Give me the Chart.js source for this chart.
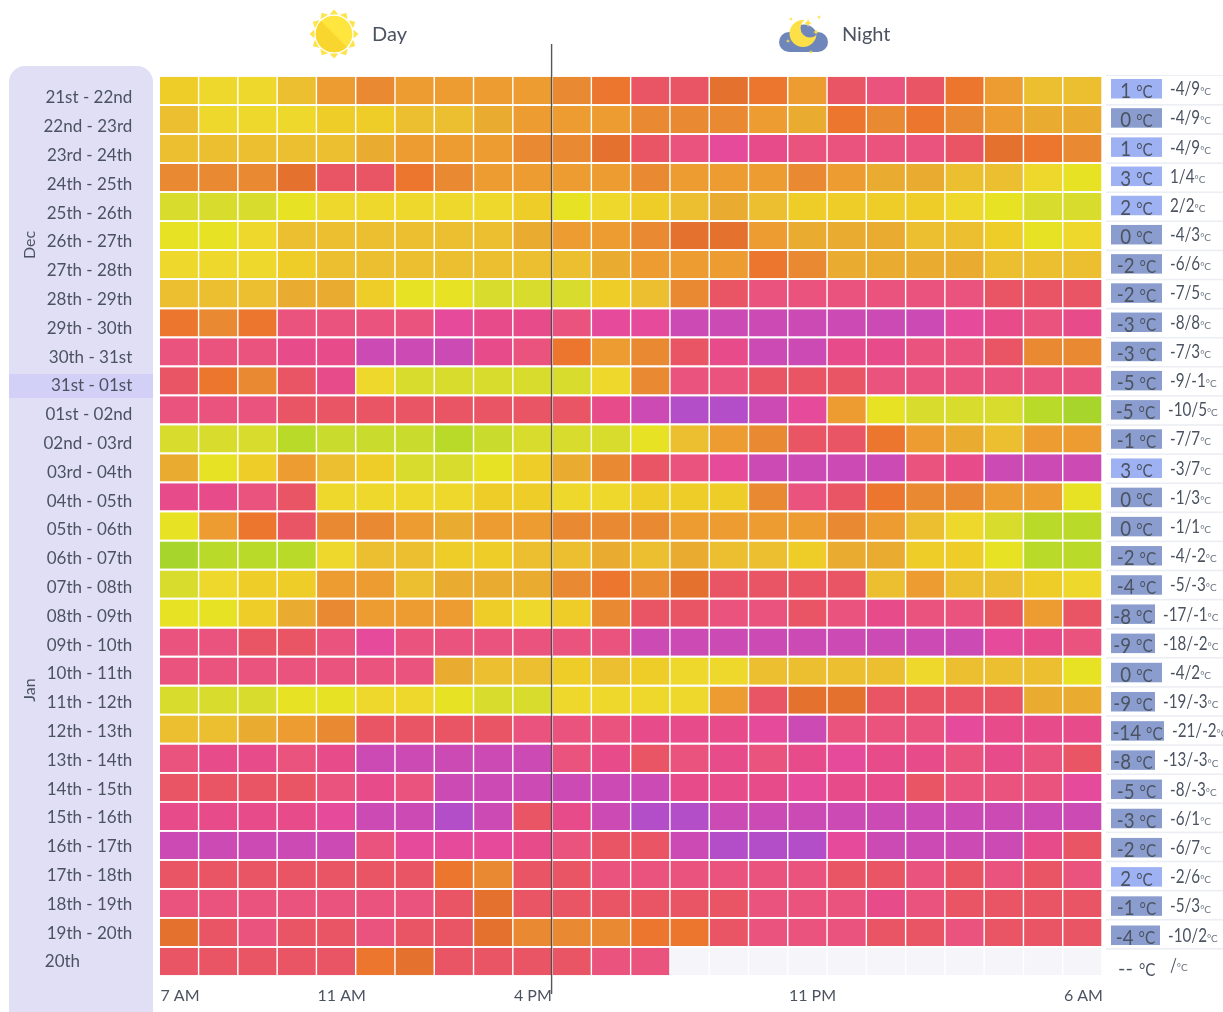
<!DOCTYPE html>
<html><head><meta charset="utf-8">
<style>html,body{margin:0;padding:0;background:#fff;overflow:hidden}canvas{display:block}</style>
<script src="https://cdn.jsdelivr.net/npm/chart.js@4"></script>
</head><body>
<canvas id="c" width="1223" height="1012"></canvas>
<script>
const rowLabels=["21st - 22nd","22nd - 23rd","23rd - 24th","24th - 25th","25th - 26th","26th - 27th","27th - 28th","28th - 29th","29th - 30th","30th - 31st","31st - 01st","01st - 02nd","02nd - 03rd","03rd - 04th","04th - 05th","05th - 06th","06th - 07th","07th - 08th","08th - 09th","09th - 10th","10th - 11th","11th - 12th","12th - 13th","13th - 14th","14th - 15th","15th - 16th","16th - 17th","17th - 18th","18th - 19th","19th - 20th","20th"];
const hourLabels=["7 AM","8 AM","9 AM","10 AM","11 AM","12 PM","1 PM","2 PM","3 PM","4 PM","5 PM","6 PM","7 PM","8 PM","9 PM","10 PM","11 PM","12 AM","1 AM","2 AM","3 AM","4 AM","5 AM","6 AM"];
const shownHours=[0,4,9,16,23];
const levelColors=["#a8d52b","#b9da28","#c9dc2e","#d8dc2d","#e8e224","#eed82c","#efcd28","#ebbf2f","#e9ac30","#ec9c30","#e98931","#ec762e","#e4722e","#e95564","#e9537d","#e84b89","#e64a9a","#cc4ab3","#b44dc8"];
const missingColor="#f6f6fa";
const levels=[
[6,5,5,7,9,10,9,9,9,9,10,11,13,13,12,11,9,13,14,13,11,9,7,7],
[7,5,5,5,6,6,7,7,8,9,9,9,10,10,10,9,8,11,10,11,10,9,8,8],
[7,7,7,7,7,8,9,9,9,10,10,12,13,14,16,15,14,14,14,14,13,12,11,10],
[10,10,10,12,13,13,11,10,9,9,9,9,10,9,9,9,10,9,8,8,7,7,5,4],
[3,3,3,4,5,5,5,5,5,6,4,5,6,7,8,7,6,6,6,6,5,4,3,3],
[4,4,5,7,7,7,7,7,7,8,9,9,10,12,12,9,8,8,8,7,7,6,4,5],
[5,5,5,6,7,7,7,7,7,7,7,8,9,9,9,11,10,8,8,8,8,7,7,7],
[7,7,7,8,8,6,4,4,3,3,3,6,7,10,13,14,14,14,14,14,14,13,13,13],
[11,10,11,14,14,14,14,16,15,15,14,16,16,17,17,17,17,17,17,17,16,15,14,15],
[14,14,14,15,15,17,17,17,15,14,11,9,10,13,15,17,17,15,15,14,14,13,10,10],
[13,11,10,13,15,5,3,3,3,3,3,5,10,14,14,13,13,13,14,14,14,14,14,14],
[14,14,14,13,13,13,13,13,13,13,13,15,17,18,18,17,16,9,4,3,3,3,1,0],
[3,3,3,1,2,2,2,1,2,3,3,3,4,7,9,10,13,13,11,9,8,7,9,9],
[8,4,6,9,7,6,3,3,4,6,8,10,13,14,16,17,17,17,17,14,15,17,17,17],
[15,15,14,13,5,5,5,5,6,6,5,5,6,6,6,10,14,13,11,10,10,9,9,4],
[4,9,11,13,10,10,9,8,9,9,10,10,10,9,9,9,9,10,9,7,5,3,1,1],
[0,1,1,1,5,7,7,6,6,7,7,8,7,8,7,7,6,8,8,6,6,4,1,1],
[3,5,6,6,9,9,7,8,8,8,10,11,10,12,13,13,13,13,7,9,7,7,6,5],
[4,4,6,8,10,9,9,9,6,5,6,10,13,13,14,14,13,14,15,14,14,13,9,13],
[14,14,13,13,14,16,14,14,14,14,14,14,17,17,17,17,17,17,17,17,17,16,15,14],
[14,14,14,14,14,14,14,8,7,7,6,7,6,5,5,7,7,7,7,5,7,7,7,4],
[3,3,3,4,4,5,5,4,3,3,5,5,5,5,9,13,12,12,13,13,13,13,8,8],
[7,7,8,9,10,13,13,13,13,14,14,14,15,15,15,16,17,14,14,14,16,15,15,15],
[14,15,15,14,15,17,17,17,17,17,14,15,13,14,15,14,15,16,15,15,14,15,14,13],
[13,13,13,13,14,15,14,17,17,17,17,17,17,15,15,15,16,15,15,13,14,14,14,16],
[15,15,15,15,16,17,17,18,17,13,15,17,18,18,17,17,17,17,17,17,17,17,17,17],
[17,17,17,17,17,14,16,16,16,15,14,13,13,17,18,18,18,16,17,17,17,17,15,13],
[13,13,13,13,13,13,13,11,10,13,13,14,14,14,14,14,14,13,13,14,13,14,13,14],
[14,14,14,14,14,14,14,13,12,13,13,13,13,13,13,14,14,14,15,14,13,13,13,13],
[12,13,14,13,13,14,13,13,12,10,10,10,11,11,13,14,14,14,13,13,14,13,13,13],
[13,13,13,13,13,11,12,13,13,13,13,14,14,null,null,null,null,null,null,null,null,null,null,null]
];
const meanTemps=[1,0,1,3,2,0,-2,-2,-3,-3,-5,-5,-1,3,0,0,-2,-4,-8,-9,0,-9,-14,-8,-5,-3,-2,2,-1,-4,null];
const tempRanges=["-4/9","-4/9","-4/9","1/4","2/2","-4/3","-6/6","-7/5","-8/8","-7/3","-9/-1","-10/5","-7/7","-3/7","-1/3","-1/1","-4/-2","-5/-3","-17/-1","-18/-2","-4/2","-19/-3","-21/-2","-13/-3","-8/-3","-6/1","-6/7","-2/6","-5/3","-10/2","/"];
const monthLabels=["Dec","Jan"];
const headerLabels=["Day","Night"];
const todayRow=10;
const nowColumn=10;

const FONT='Lato, "Open Sans", sans-serif';
const INK='#4b5361';

function narrow(ctx,t,x,y,k){const w=ctx.measureText(t).width*k;ctx.fillText(t,x,y,w);return w;}
function drawSun(ctx,cx,cy){
  ctx.save();
  ctx.fillStyle='#fde44b';
  for(let i=0;i<12;i++){
    const a=i*Math.PI/6;
    ctx.save();ctx.translate(cx,cy);ctx.rotate(a);
    ctx.beginPath();ctx.moveTo(-4.5,-19.5);ctx.lineTo(0,-24.5);ctx.lineTo(4.5,-19.5);ctx.closePath();ctx.fill();
    ctx.restore();
  }
  ctx.beginPath();ctx.arc(cx,cy,18.3,0,Math.PI*2);ctx.fillStyle='#fee63f';ctx.fill();
  ctx.save();ctx.beginPath();ctx.arc(cx,cy,18.3,0,Math.PI*2);ctx.clip();
  ctx.beginPath();ctx.moveTo(cx-20,cy-20);ctx.lineTo(cx+20,cy+20);ctx.lineTo(cx-20,cy+20);ctx.closePath();
  ctx.fillStyle='#f9d62e';ctx.fill();ctx.restore();
  ctx.restore();
}
function star(ctx,x,y,r,color){
  ctx.fillStyle=color;ctx.beginPath();
  ctx.moveTo(x,y-r);ctx.quadraticCurveTo(x,y,x+r,y);ctx.quadraticCurveTo(x,y,x,y+r);
  ctx.quadraticCurveTo(x,y,x-r,y);ctx.quadraticCurveTo(x,y,x,y-r);ctx.fill();
}
function drawMoon(ctx){
  ctx.save();
  const blue='#6f86bb',yel='#fddf47';
  ctx.fillStyle=blue;
  ctx.beginPath();ctx.arc(804,38,13.5,0,Math.PI*2);ctx.fill();
  ctx.beginPath();ctx.arc(789,42,10,0,Math.PI*2);ctx.fill();
  ctx.beginPath();ctx.arc(818,42,10,0,Math.PI*2);ctx.fill();
  ctx.fillRect(789,38,29,14);
  ctx.save();
  ctx.beginPath();ctx.rect(770,10,70,50);ctx.arc(810,28,9.5,0,Math.PI*2);ctx.clip('evenodd');
  ctx.fillStyle=yel;ctx.beginPath();ctx.arc(803,33.5,13.5,0,Math.PI*2);ctx.fill();
  ctx.restore();
  star(ctx,791,19,2.5,yel);star(ctx,808,23,5,yel);star(ctx,819,17,2.5,yel);
  star(ctx,816,32,3.5,yel);star(ctx,788,41,2.5,yel);star(ctx,811,52,2.5,yel);
  ctx.restore();
}
function badgeWidth(t,i){
  if(t===-8||t===-9) return 44;
  if(t===-14) return 53;
  if(i===11||i===29) return 49;
  return 51;
}
const backdrop={id:'backdrop',beforeDraw(chart){
  const ctx=chart.ctx;
  ctx.save();
  ctx.fillStyle='#fff';ctx.fillRect(0,0,1223,1012);
  ctx.fillStyle='#e1dff5';
  ctx.beginPath();ctx.roundRect(9,66,144,960,16);ctx.fill();
  ctx.fillStyle='#d2d0f7';
  const y2=chart.scales.y2;
  ctx.fillRect(9,y2.getPixelForValue(todayRow)-12,144,24);
  ctx.restore();
}};
const overlay={id:'overlay',afterDraw(chart){
  const ctx=chart.ctx, {x}=chart.scales;
  ctx.save();
  const lx=x.getPixelForValue(nowColumn)-0.5;
  ctx.strokeStyle='rgba(45,45,50,.8)';ctx.lineWidth=1.4;
  ctx.beginPath();ctx.moveTo(lx,44);ctx.lineTo(lx,994);ctx.stroke();
  drawSun(ctx,334,34);drawMoon(ctx);
  ctx.fillStyle=INK;ctx.textBaseline='middle';ctx.textAlign='left';
  ctx.font='20px '+FONT;
  ctx.fillText(headerLabels[0],372,35);
  ctx.fillText(headerLabels[1],842,35);
  ctx.font='16px '+FONT;ctx.textAlign='center';
  [[monthLabels[0],245],[monthLabels[1],690]].forEach(([t,y])=>{
    ctx.save();ctx.translate(30,y);ctx.rotate(-Math.PI/2);ctx.fillText(t,0,0);ctx.restore();
  });
  meanTemps.forEach((t,i)=>{
    const top=76+29.1*i;
    ctx.fillStyle='#eceef3';ctx.fillRect(1106,top-1,117,i===0?1:1.6);
    const by=top+3+i*0.09,cy=by+10;
    let rx;
    ctx.textBaseline='middle';ctx.textAlign='left';
    if(t===null){
      ctx.fillStyle=INK;
      ctx.font='20px '+FONT;ctx.fillText('--',1118,cy+4);
      ctx.font='18px '+FONT;narrow(ctx,'°C',1139,cy+5,.85);
      rx=1162;
    }else{
      const w=badgeWidth(t,i);
      ctx.fillStyle=t>0?'#9db1f3':'#8a9dce';
      ctx.fillRect(1111,by,w,19.5);
      rx=1111+w;
      ctx.fillStyle=INK;
      const s=String(t),k=.85;
      ctx.font='22px '+FONT;const sw=ctx.measureText(s).width*k;
      ctx.font='18px '+FONT;const uw=ctx.measureText('°C').width*k,gap=5;
      const sx=1111+(w-sw-gap-uw)/2;
      ctx.font='22px '+FONT;narrow(ctx,s,sx,cy+2,k);
      ctx.font='18px '+FONT;narrow(ctx,'°C',sx+sw+gap,cy+3,k);
    }
    ctx.fillStyle=INK;
    ctx.font='19px '+FONT;
    const rw=narrow(ctx,tempRanges[i],rx+8,t===null?cy+1:cy,.8);
    ctx.font='10px '+FONT;ctx.fillStyle='#6a7280';
    ctx.fillText('°C',rx+8+rw,cy+3);
  });
  ctx.restore();
}};
const datasets=hourLabels.map((h,col)=>({
  label:h,
  data:levels.map(()=>1),
  backgroundColor:levels.map(r=>r[col]===null?missingColor:levelColors[r[col]]),
  borderColor:'#fff',
  borderWidth:{left:.7,right:.7,top:0,bottom:0},
  borderSkipped:false,
  barPercentage:.94,
  categoryPercentage:1,
  yAxisID:'y',xAxisID:'x'
}));
new Chart(document.getElementById('c'),{
  type:'bar',
  data:{labels:rowLabels,datasets},
  plugins:[backdrop,overlay],
  options:{
    indexAxis:'y',responsive:false,animation:false,
    events:[],
    layout:{padding:{left:0,top:76,right:121,bottom:0}},
    plugins:{legend:{display:false},tooltip:{enabled:false},title:{display:false}},
    scales:{
      x:{type:'linear',stacked:true,min:0,max:24,position:'bottom',
        grid:{display:false},border:{display:false},
        afterBuildTicks(a){a.ticks=shownHours.map(v=>({value:v+0.03}));},
        afterFit(a){a.height=36;},
        ticks:{autoSkip:false,maxRotation:0,align:'start',padding:2,color:INK,font:{family:FONT,size:16},
          callback:v=>hourLabels[Math.floor(v)]}
      },
      y:{type:'category',stacked:true,display:false},
      y2:{type:'linear',position:'left',reverse:true,offset:false,min:-0.764,max:30.486,
        grid:{display:false},border:{display:false},
        afterBuildTicks(a){a.ticks=rowLabels.map((_,i)=>({value:i}));},
        afterFit(a){a.width=159.3;},
        ticks:{autoSkip:false,padding:19,color:INK,font:{family:FONT,size:17},
          callback:v=>rowLabels[v]==='20th'?'20th'+'\u00a0'.repeat(12):rowLabels[v]}
      }
    }
  }
});
</script>
</body></html>
